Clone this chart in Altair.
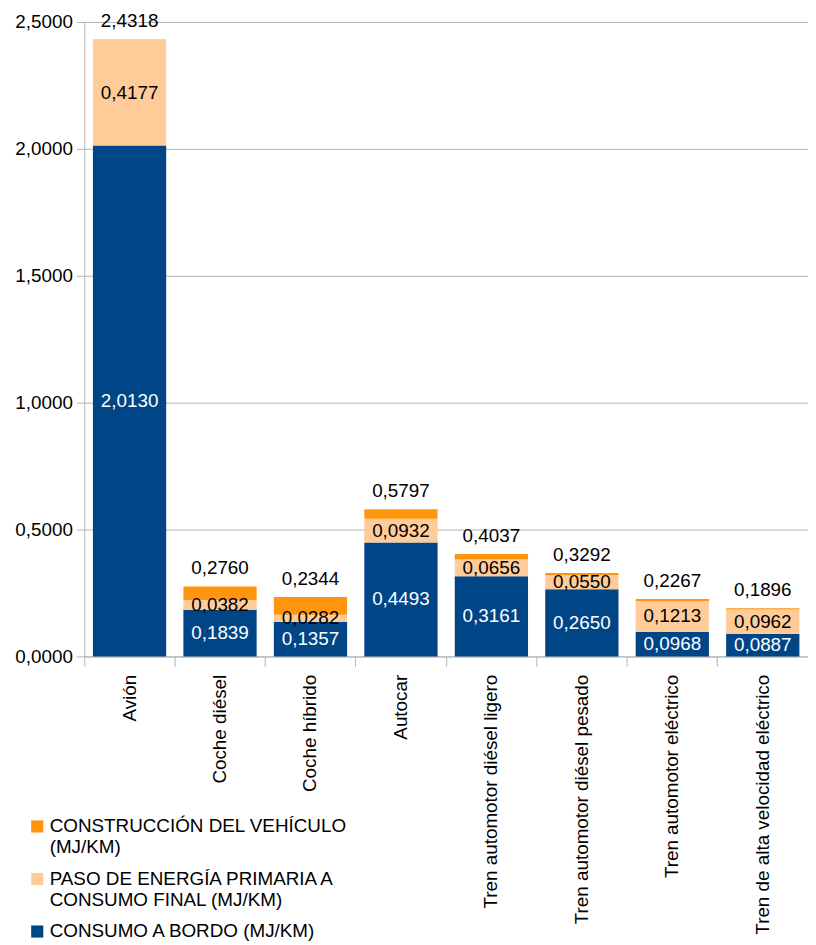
import altair as alt
import pandas as pd

categories = ["Avión", "Coche diésel", "Coche híbrido", "Autocar",
              "Tren automotor diésel ligero", "Tren automotor diésel pesado",
              "Tren automotor eléctrico", "Tren de alta velocidad eléctrico"]
bordo = [2.0130, 0.1839, 0.1357, 0.4493, 0.3161, 0.2650, 0.0968, 0.0887]
paso = [0.4177, 0.0382, 0.0282, 0.0932, 0.0656, 0.0550, 0.1213, 0.0962]
construccion = [0.0011, 0.0539, 0.0705, 0.0372, 0.0220, 0.0092, 0.0086, 0.0047]
totals = [2.4318, 0.2760, 0.2344, 0.5797, 0.4037, 0.3292, 0.2267, 0.1896]
y_ticks = [0, 0.5, 1.0, 1.5, 2.0, 2.5]

S_CON = "CONSTRUCCIÓN DEL VEHÍCULO (MJ/KM)"
S_PASO = "PASO DE ENERGÍA PRIMARIA A CONSUMO FINAL (MJ/KM)"
S_BOR = "CONSUMO A BORDO (MJ/KM)"
series_order = [S_CON, S_PASO, S_BOR]
colors = ["#ff950e", "#ffcc99", "#004586"]

def fmt(v):
    return f"{v:.4f}".replace(".", ",")

rows = []
for i, c in enumerate(categories):
    rows.append({"cat": c, "series": S_BOR, "value": bordo[i], "ord": 0})
    rows.append({"cat": c, "series": S_PASO, "value": paso[i], "ord": 1})
    rows.append({"cat": c, "series": S_CON, "value": construccion[i], "ord": 2})
df = pd.DataFrame(rows)

lab_rows = []
for i, c in enumerate(categories):
    lab_rows.append({"cat": c, "mid": bordo[i] / 2, "label": fmt(bordo[i]), "kind": "bordo"})
    lab_rows.append({"cat": c, "mid": bordo[i] + paso[i] / 2, "label": fmt(paso[i]), "kind": "paso"})
    lab_rows.append({"cat": c, "mid": totals[i], "label": fmt(totals[i]), "kind": "total"})
dl = pd.DataFrame(lab_rows)

FONT = "Liberation Sans"
FS = 19
GRAY = "#b3b3b3"

xenc = alt.X("cat:N", sort=categories, title=None,
             scale=alt.Scale(paddingInner=0, paddingOuter=0),
             axis=alt.Axis(labelAngle=270, bandPosition=0, tickSize=10,
                           tickColor=GRAY, domainColor=GRAY, labelFont=FONT,
                           labelFontSize=FS, labelColor="#000000", labelPadding=8,
                           labelLimit=400))

yscale = alt.Scale(domain=[0, 2.5], nice=False)

legend_expr = ("datum.label == '" + S_CON + "' ? ['CONSTRUCCIÓN DEL VEHÍCULO', '(MJ/KM)'] : "
               "datum.label == '" + S_PASO + "' ? ['PASO DE ENERGÍA PRIMARIA A', 'CONSUMO FINAL (MJ/KM)'] : datum.label")

bars = alt.Chart(df).mark_bar(width=alt.RelativeBandSize(0.81)).encode(
    x=xenc,
    y=alt.Y("value:Q", stack="zero", scale=yscale, title=None,
            axis=alt.Axis(values=y_ticks,
                          labelExpr="replace(format(datum.value, '.4f'), '.', ',')",
                          gridColor=GRAY, tickColor=GRAY, domainColor=GRAY,
                          tickSize=8, labelPadding=4, labelFont=FONT,
                          labelFontSize=FS, labelColor="#000000")),
    color=alt.Color("series:N", scale=alt.Scale(domain=series_order, range=colors),
                    legend=alt.Legend(
                        title=None, orient="none", legendX=-57, legendY=802,
                        symbolType="square", symbolSize=150, symbolStrokeWidth=0,
                        labelFont=FONT, labelFontSize=FS, labelColor="#000000",
                        rowPadding=12, labelOffset=3,
                        labelExpr=legend_expr, labelLimit=400)),
    order=alt.Order("ord:Q"),
)

base_txt = alt.Chart(dl)
t_bordo = base_txt.transform_filter("datum.kind == 'bordo'").mark_text(
    font=FONT, fontSize=FS, color="#ffffff", baseline="middle").encode(
    x=alt.X("cat:N", sort=categories), y=alt.Y("mid:Q", scale=yscale), text="label:N")
t_paso = base_txt.transform_filter("datum.kind == 'paso'").mark_text(
    font=FONT, fontSize=FS, color="#000000", baseline="middle").encode(
    x=alt.X("cat:N", sort=categories), y=alt.Y("mid:Q", scale=yscale), text="label:N")
t_tot = base_txt.transform_filter("datum.kind == 'total'").mark_text(
    font=FONT, fontSize=FS, color="#000000", baseline="middle", dy=-18).encode(
    x=alt.X("cat:N", sort=categories), y=alt.Y("mid:Q", scale=yscale), text="label:N")

chart = alt.layer(bars, t_bordo, t_paso, t_tot).properties(
    width=730, height=640, background="#ffffff",
    autosize=alt.AutoSizeParams(type="none"),
    padding={"left": 77, "top": 10, "right": 0, "bottom": 287},
).configure_view(stroke=None)

chart.save("out.html", embed_options={"renderer": "svg", "actions": False})
